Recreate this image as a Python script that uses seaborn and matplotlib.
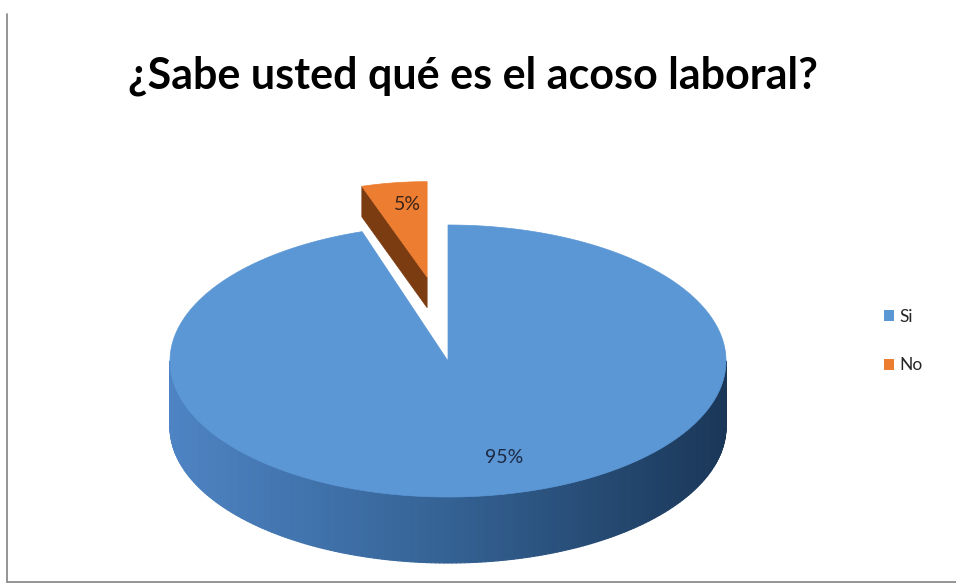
import numpy as np
import matplotlib
matplotlib.use("Agg")
import matplotlib.pyplot as plt
from matplotlib.collections import PolyCollection
from matplotlib.patches import Polygon, Patch
from matplotlib.lines import Line2D
import seaborn as sns

# ---- data ----
categories = ["Si", "No"]
values = [95, 5]
explode = [0.0, 0.48]
title = "¿Sabe usted qué es el acoso laboral?"

sns.set_theme(style="white")
plt.rcParams["font.family"] = ["Lato", "DejaVu Sans"]

top_colors = ["#5B97D5", "#ED7D31"]
cut_colors = ["#2E5A8C", "#7B3C12"]
label_colors = ["#1d2a44", "#3a2418"]
# wall gradient (left -> middle -> right) per slice
wall_stops = [
    [(78, 132, 196), (52, 98, 148), (26, 55, 88)],
    [(190, 95, 30), (150, 70, 20), (110, 50, 12)],
]

W, H = 956, 584
fig = plt.figure(figsize=(W / 100, H / 100), dpi=100)
ax = fig.add_axes([0, 0, 1, 1])
ax.set_xlim(0, W)
ax.set_ylim(H, 0)
ax.axis("off")

# pie geometry (screen units)
cx, cy = 448.0, 361.0
ra, rb = 278.0, 136.0
depth = 66.0
# how an exploded slice recedes from the viewer, per unit of explode
shrink_a, shrink_b, shrink_d = 0.50, 0.62, 1.12
lift = 1.30


def pt(c, a, b, th):
    t = np.deg2rad(th)
    return c[0] + a * np.cos(t), c[1] - b * np.sin(t)


def wall_color(stops, th):
    t = (np.cos(np.deg2rad(th)) + 1) / 2
    if t < 0.5:
        c0, c1, f = stops[0], stops[1], t / 0.5
    else:
        c0, c1, f = stops[1], stops[2], (t - 0.5) / 0.5
    return tuple((c0[i] + (c1[i] - c0[i]) * f) / 255 for i in range(3))


total = float(sum(values))
start = 90.0
slices = []
for i, v in enumerate(values):
    sweep = v / total * 360.0
    hi, lo = start, start - sweep
    start = lo
    mid = (hi + lo) / 2
    e = explode[i]
    c = (cx + e * ra * np.cos(np.deg2rad(mid)),
         cy - e * lift * rb * np.sin(np.deg2rad(mid)))
    slices.append(dict(i=i, hi=hi, lo=lo, mid=mid, c=c,
                       a=ra * (1 - shrink_a * e), b=rb * (1 - shrink_b * e),
                       d=depth * (1 - shrink_d * e)))

# draw slices from back (most exploded / receding) to front
for sl in sorted(slices, key=lambda q: q["c"][1]):
    i, c, a, b, d = sl["i"], sl["c"], sl["a"], sl["b"], sl["d"]
    lo, hi = sl["lo"], sl["hi"]

    # visible radial cut faces
    for ang, sign in ((lo, -1), (hi, 1)):
        normal = np.deg2rad(ang + sign * 90)
        if -np.sin(normal) > 0.05:
            ox, oy = pt(c, a, b, ang)
            quad = [(c[0], c[1]), (ox, oy), (ox, oy + d), (c[0], c[1] + d)]
            ax.add_patch(Polygon(quad, closed=True, fc=cut_colors[i], ec=cut_colors[i], lw=0.5))

    # front outer wall
    th = np.linspace(lo, hi, 400)
    polys, cols = [], []
    for t0, t1 in zip(th[:-1], th[1:]):
        tm = (t0 + t1) / 2
        if np.sin(np.deg2rad(tm)) >= 0:
            continue
        x0, y0 = pt(c, a, b, t0)
        x1, y1 = pt(c, a, b, t1)
        polys.append([(x0, y0), (x1, y1), (x1, y1 + d), (x0, y0 + d)])
        cols.append(wall_color(wall_stops[i], tm))
    if polys:
        ax.add_collection(PolyCollection(polys, facecolors=cols, edgecolors=cols, linewidths=0.8))

    # top face
    arc = [pt(c, a, b, t) for t in np.linspace(hi, lo, 400)]
    ax.add_patch(Polygon([c] + arc, closed=True, fc=top_colors[i], ec=top_colors[i], lw=0.5))

# percentage labels on the top faces
pct_labels = [f"{round(v / total * 100)}%" for v in values]
label_shift = [(24, 4), (5, 2)]
for sl in slices:
    lx, ly = pt(sl["c"], sl["a"] * 0.75, sl["b"] * 0.75, sl["mid"])
    ax.annotate(pct_labels[sl["i"]], (lx, ly), xytext=label_shift[sl["i"]],
                textcoords="offset pixels", ha="center", va="center",
                fontsize=14, color=label_colors[sl["i"]])

# title
ax.text(473, 88, title, ha="center", va="baseline", fontsize=31, fontweight="bold", color="black")

# legend
handles = [Patch(facecolor=top_colors[k], edgecolor="none") for k in range(len(categories))]
fig.legend(handles, categories, loc="center left", bbox_to_anchor=(870 / W, 1 - 341 / H),
           frameon=False, fontsize=12.5, handlelength=0.6, handleheight=0.6,
           handletextpad=0.3, labelspacing=1.9, borderpad=0.3)

# chart area frame (left and bottom edges)
fig.add_artist(Line2D([7 / W, 7 / W], [1 - 14 / H, 1 - 582 / H], color="#8c8c8c", lw=1.3))
fig.add_artist(Line2D([7 / W, 1], [1 - 582 / H, 1 - 582 / H], color="#8c8c8c", lw=1.3))

fig.savefig("out.png", dpi=100)
